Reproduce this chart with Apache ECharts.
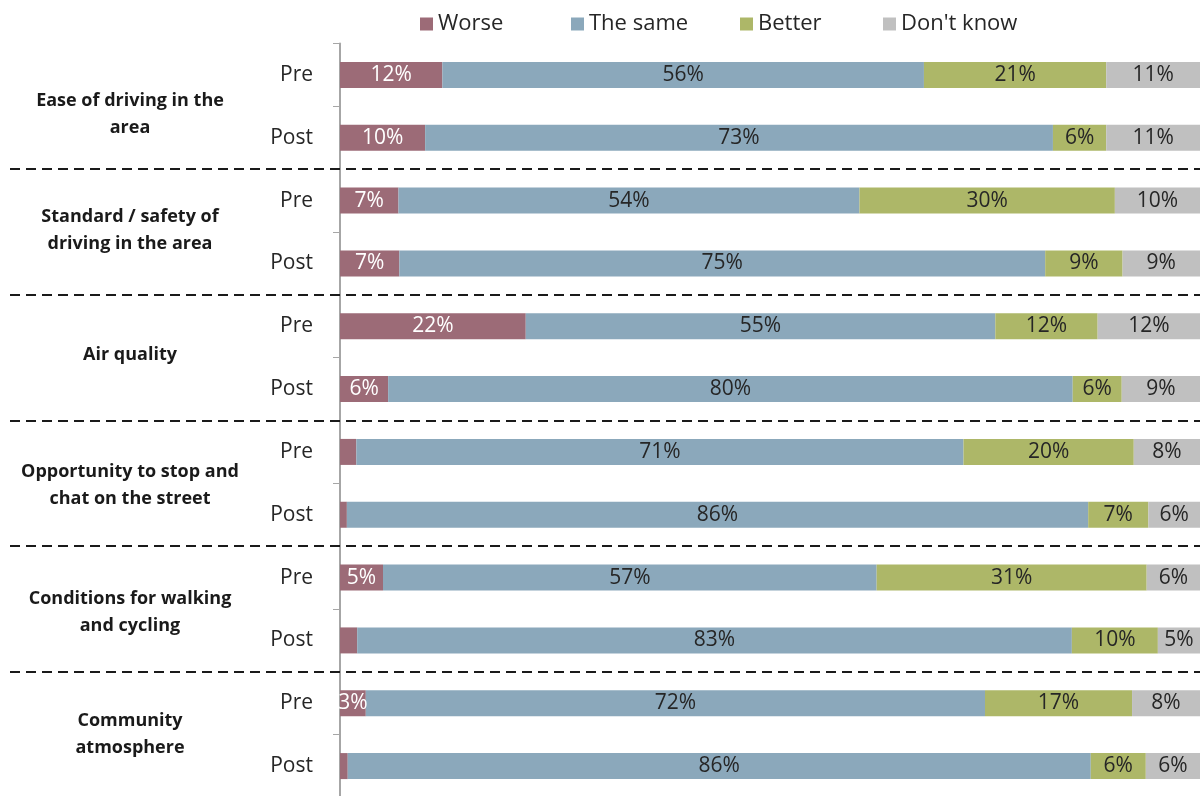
<!DOCTYPE html>
<html>
<head>
<meta charset="utf-8">
<script src="https://cdn.jsdelivr.net/npm/echarts@6/dist/echarts.min.js"></script>
<style>
  html, body { margin: 0; padding: 0; background: #fff; }
  #chart { width: 1201px; height: 796px; }
</style>
</head>
<body>
<div id="chart"></div>
<script>
// Perceptions before and after the scheme, share of respondents (%)
const groups = [
  'Ease of driving in the\narea',
  'Standard / safety of\ndriving in the area',
  'Air quality',
  'Opportunity to stop and\nchat on the street',
  'Conditions for walking\nand cycling',
  'Community\natmosphere'
];
const rows = ['Pre', 'Post', 'Pre', 'Post', 'Pre', 'Post', 'Pre', 'Post', 'Pre', 'Post', 'Pre', 'Post'];

const worse  = [11.9,  9.9,  6.8,  6.9, 21.6,  5.6,  1.9,  0.8,  5.0,  2.0,  3.0,  0.9];
const same   = [56.0, 73.0, 53.6, 75.1, 54.6, 79.6, 70.6, 86.2, 57.4, 83.1, 72.0, 86.4];
const better = [21.2,  6.2, 29.7,  9.0, 11.9,  5.7, 19.8,  7.0, 31.4, 10.0, 17.1,  6.4];
const dontKnow = [10.9, 10.9, 9.9,  9.0, 11.9,  9.1,  7.7,  6.0,  6.2,  4.9,  7.9,  6.3];

const seriesNames = ['Worse', 'The same', 'Better', "Don't know"];
const seriesValues = [worse, same, better, dontKnow];
const colors = ['#9c6b77', '#8ba8bb', '#adb768', '#c0c0c0'];
const labelColors = ['#ffffff', '#262626', '#262626', '#262626'];

const FONT = '"Open Sans", "Noto Sans", sans-serif';

// vertical nudge (px) of each question label from the middle of its pair of bars
const groupNudge = [8, -2, -3, 2, 3, 0];
// horizontal centre of the question labels
const groupLabelX = 130;

// left edge of each legend entry
const legendLefts = [415, 566, 735, 878];

const chart = echarts.init(document.getElementById('chart'), null, { renderer: 'canvas' });

const option = {
  animation: false,
  color: colors,
  textStyle: { fontFamily: FONT },
  legend: seriesNames.map((name, i) => ({
    top: 8,
    left: legendLefts[i],
    icon: 'rect',
    itemWidth: 13,
    itemHeight: 13,
    textStyle: { fontSize: 22, color: '#262626', fontFamily: FONT },
    data: [name]
  })),
  grid: { left: 340, right: 1, top: 43.5, height: 754, containLabel: false, outerBoundsMode: 'none' },
  xAxis: {
    type: 'value',
    min: 0,
    max: 100,
    show: false
  },
  yAxis: {
    type: 'category',
    data: rows,
    inverse: true,
    position: 'left',
    axisLine: { show: true, lineStyle: { color: '#a6a6a6', width: 2 } },
    axisTick: { show: true, length: 7, lineStyle: { color: '#a6a6a6', width: 1 } },
    axisLabel: { fontSize: 21, color: '#262626', margin: 27, fontFamily: FONT },
    splitLine: { show: false }
  },
  series: seriesNames.map((name, i) => ({
    name: name,
    type: 'bar',
    stack: 'total',
    barWidth: 26,
    data: seriesValues[i],
    itemStyle: { color: colors[i] },
    label: {
      show: true,
      position: 'inside',
      fontSize: 21,
      color: labelColors[i],
      fontFamily: FONT,
      formatter: p => (Math.round(p.value) >= 3 ? Math.round(p.value) + '%' : '')
    }
  }))
};

chart.setOption(option);

// Question labels and dashed separators, placed from the category axis
const rowY = i => chart.convertToPixel({ yAxisIndex: 0 }, i);
const extras = [];
groups.forEach((g, k) => {
  const yc = (rowY(2 * k) + rowY(2 * k + 1)) / 2 + groupNudge[k];
  extras.push({
    type: 'text',
    x: groupLabelX,
    y: yc,
    style: {
      text: g,
      align: 'center',
      verticalAlign: 'middle',
      fontSize: 18,
      fontWeight: 'bold',
      fontFamily: FONT,
      lineHeight: 27,
      fill: '#1a1a1a'
    }
  });
  if (k > 0) {
    const y = Math.round((rowY(2 * k - 1) + rowY(2 * k)) / 2);
    extras.push({
      type: 'line',
      shape: { x1: 10, y1: y, x2: 1200, y2: y },
      style: { stroke: '#1a1a1a', lineWidth: 2, lineDash: [10, 6] },
      z: 10
    });
  }
});
chart.setOption({ graphic: extras });
</script>
</body>
</html>
